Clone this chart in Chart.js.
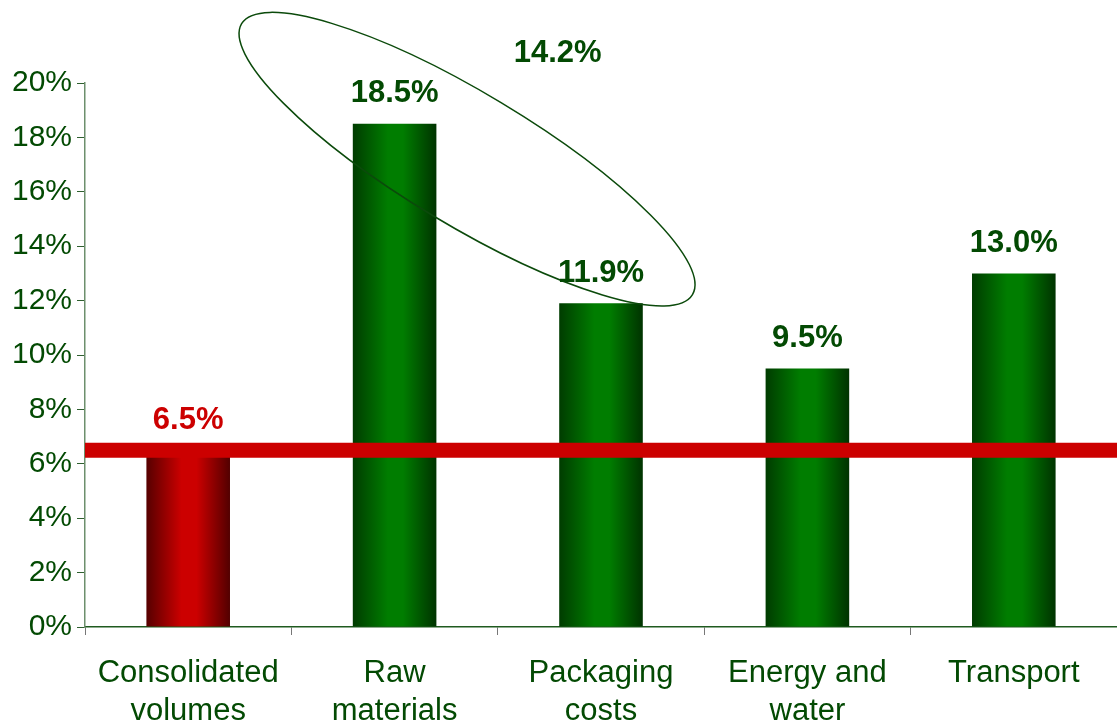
<!DOCTYPE html>
<html>
<head>
<meta charset="utf-8">
<title>Cost growth</title>
<script src="https://cdn.jsdelivr.net/npm/chart.js@4.4.1/dist/chart.umd.min.js"></script>
<style>
  html, body { margin: 0; padding: 0; background: #fff; overflow: hidden; }
  #wrap { position: relative; width: 1117px; height: 724px; }
</style>
</head>
<body>
<div id="wrap"><canvas id="costChart"></canvas></div>
<script>
// growth by cost item, %
var categories = [['Consolidated', 'volumes'], ['Raw', 'materials'], ['Packaging', 'costs'], ['Energy and', 'water'], 'Transport'];
var growth = [6.5, 18.5, 11.9, 9.5, 13.0];
var yTicks = [0, 2, 4, 6, 8, 10, 12, 14, 16, 18, 20];

// reference line (volume growth) and combined figure for raw materials + packaging
var volumeLine = 6.5;
var comboValue = 14.2;

var FONT = 'Arial, "Liberation Sans", sans-serif';
var GREEN_TEXT = '#034a03';
var RED = '#cc0000';
var BAR_PCT = 0.405;

var greenShades = ['#003c00', '#007d00', '#007d00', '#003300'];
var redShades = ['#560000', '#cc0000', '#cc0000', '#520000'];

function barGradient(context) {
  var chart = context.chart;
  if (!chart.chartArea || !chart.scales.x) return '#007d00';
  var xs = chart.scales.x;
  var center = xs.getPixelForValue(context.dataIndex);
  var half = xs.width / categories.length * BAR_PCT / 2;
  var g = chart.ctx.createLinearGradient(center - half, 0, center + half, 0);
  var c = context.dataIndex === 0 ? redShades : greenShades;
  g.addColorStop(0, c[0]);
  g.addColorStop(0.42, c[1]);
  g.addColorStop(0.6, c[2]);
  g.addColorStop(1, c[3]);
  return g;
}

var overlays = {
  id: 'overlays',
  afterDatasetsDraw: function (chart) {
    var ctx = chart.ctx;
    var xs = chart.scales.x, ys = chart.scales.y;
    var area = chart.chartArea;
    ctx.save();

    // red volume line across the whole plot
    var ly = ys.getPixelForValue(volumeLine);
    ctx.strokeStyle = RED;
    ctx.lineWidth = 15;
    ctx.beginPath();
    ctx.moveTo(area.left, ly);
    ctx.lineTo(chart.width, ly);
    ctx.stroke();

    // ellipse grouping raw materials and packaging
    var step = xs.getPixelForValue(2) - xs.getPixelForValue(1);
    var ex = xs.getPixelForValue(1) + step * 0.351;
    var ey = ys.getPixelForValue(17.2);
    ctx.strokeStyle = '#0b4a0b';
    ctx.lineWidth = 1.5;
    ctx.beginPath();
    ctx.ellipse(ex, ey, 263, 66, 31 * Math.PI / 180, 0, Math.PI * 2);
    ctx.stroke();

    // value labels
    ctx.font = 'bold 31px ' + FONT;
    ctx.textAlign = 'center';
    ctx.textBaseline = 'middle';
    var meta = chart.getDatasetMeta(0);
    meta.data.forEach(function (bar, i) {
      ctx.fillStyle = i === 0 ? RED : GREEN_TEXT;
      ctx.fillText(growth[i].toFixed(1) + '%', bar.x, bar.y - 30);
    });

    ctx.fillStyle = GREEN_TEXT;
    ctx.fillText(comboValue.toFixed(1) + '%', xs.getPixelForValue(1) + step * 0.79, ys.getPixelForValue(21.1));
    ctx.restore();
  }
};

new Chart(document.getElementById('costChart'), {
  type: 'bar',
  data: {
    labels: categories,
    datasets: [{
      data: growth,
      backgroundColor: barGradient,
      borderWidth: 0,
      categoryPercentage: 1,
      barPercentage: BAR_PCT
    }]
  },
  options: {
    responsive: true,
    maintainAspectRatio: false,
    animation: false,
    layout: { padding: { top: 83, right: 0, left: 0, bottom: 0 } },
    plugins: {
      legend: { display: false },
      tooltip: { enabled: false }
    },
    scales: {
      x: {
        grid: { display: true, drawOnChartArea: false, offset: true, tickLength: 8, color: '#777' },
        border: { color: '#1f5a1f', width: 1.5 },
        ticks: {
          color: GREEN_TEXT,
          font: { family: FONT, size: 31, lineHeight: 1.23 },
          padding: 19,
          maxRotation: 0,
          autoSkip: false
        },
        afterFit: function (scale) { scale.height = 97; }
      },
      y: {
        min: 0,
        max: 20,
        afterBuildTicks: function (scale) {
          scale.ticks = yTicks.map(function (v) { return { value: v }; });
        },
        grid: { drawOnChartArea: false, tickLength: 8, color: '#2f5f2f' },
        border: { color: '#6d8f6d', width: 1.5 },
        ticks: {
          color: GREEN_TEXT,
          font: { family: FONT, size: 30 },
          padding: 5,
          callback: function (v) { return v + '%'; }
        },
        afterFit: function (scale) { scale.width = 85; }
      }
    }
  },
  plugins: [overlays]
});
</script>
</body>
</html>
